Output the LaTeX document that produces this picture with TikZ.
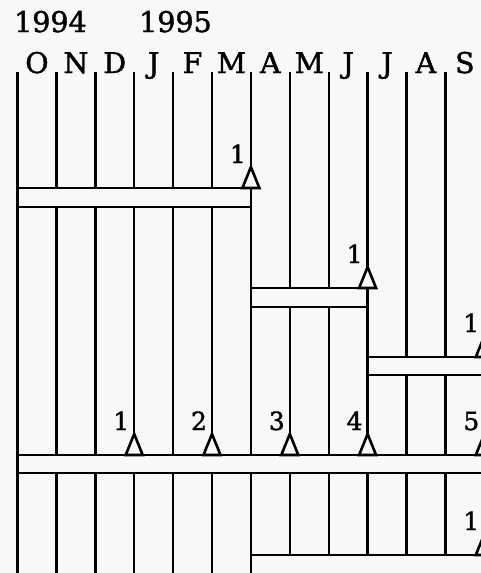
\documentclass[tikz,border=0pt]{standalone}
\usepackage{fontspec}
\setmainfont{DejaVu Serif}[FakeBold=1.5]
\definecolor{paper}{RGB}{248,248,248}

\begin{document}
\begin{tikzpicture}[
  x=1pt, y=-1pt,
  month/.style={font=\fontsize{28.5}{28.5}\selectfont, anchor=base, inner sep=0pt},
  year/.style={font=\fontsize{28.5}{28.5}\selectfont, anchor=base west, inner sep=0pt},
  num/.style={font=\fontsize{25}{25}\selectfont, anchor=base, inner sep=0pt},
  monthline/.style={line width=2.4pt, draw=black},
  bar/.style={line width=2.4pt, draw=black, fill=paper},
  pics/tri/.style={code={
    \draw[line width=2.6pt, fill=paper, line join=miter] (-8.5,0) -- (0,-21) -- (8.5,0) -- cycle;
    \node[num] at (-13,-25) {#1};
  }}
]
  \path[use as bounding box, fill=paper] (0,0) rectangle (481,573);
  \clip (0,0) rectangle (481,573);

  % month boundaries
  \foreach \i in {0,...,12}
    \coordinate (t\i) at ({17.5+38.9*\i},72);
  \foreach \i in {0,...,12}
    \draw[monthline] (t\i) -- (t\i |- 0,590);

  \node[year] (y1994) at (14,32) {1994};
  \node[year] (y1995) at (139,32) {1995};
  \foreach \m [count=\i from 0] in {O,N,D,J,F,M,A,M,J,J,A,S}
    \node[month] (mon\i) at ({17.5+38.9*(\i+0.5)},73) {\m};

  % bars
  \draw[bar] (t0 |- 0,188) rectangle (t6 |- 0,207);
  \draw[bar] (t6 |- 0,288) rectangle (t9 |- 0,307);
  \draw[bar] (t9 |- 0,357) rectangle (520,375);
  \draw[bar] (t0 |- 0,455) rectangle (520,473);
  \draw[bar] (t6 |- 0,555) rectangle (520,574);

  % milestones
  \pic at (t6 |- 0,188) {tri=1};
  \pic at (t9 |- 0,288) {tri=1};
  \pic at (t12 |- 0,357) {tri=1};
  \foreach \i/\k in {3/1,5/2,7/3,9/4,12/5}
    \pic at (t\i |- 0,455) {tri=\k};
  \pic at (t12 |- 0,555) {tri=1};
\end{tikzpicture}
\end{document}
